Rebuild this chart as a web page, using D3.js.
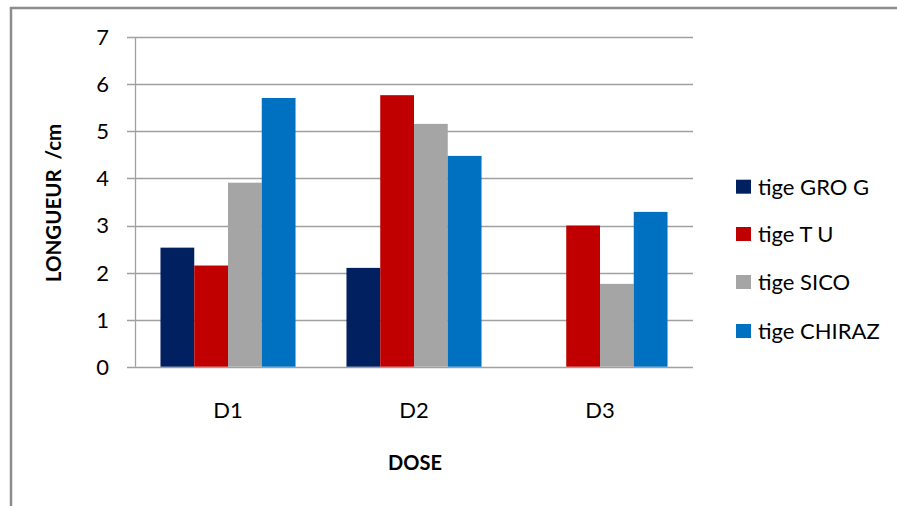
<!DOCTYPE html>
<html>
<head>
<meta charset="utf-8">
<script src="https://cdn.jsdelivr.net/npm/d3@7"></script>
<style>
  html, body { margin: 0; padding: 0; background: #fff; }
  svg { display: block; font-family: Lato, "Open Sans", "DejaVu Sans", sans-serif; }
</style>
</head>
<body>
<svg id="chart" width="897" height="506"></svg>
<script>
// Stem length per dose, one array per variety
const doses = ["D1", "D2", "D3"];
const seriesNames = ["tige GRO G", "tige T U", "tige SICO", "tige CHIRAZ"];
const groG   = [2.53, 2.10, null];
const tigeTU = [2.15, 5.77, 3.00];
const sico   = [3.91, 5.16, 1.76];
const chiraz = [5.71, 4.48, 3.29];
const yTicks = [0, 1, 2, 3, 4, 5, 6, 7];
const colors = ["#002060", "#c00000", "#a5a5a5", "#0070c0"];

const seriesValues = [groG, tigeTU, sico, chiraz];

const svg = d3.select("#chart");

// Frame lines (top and left)
svg.append("line").attr("x1", 10).attr("x2", 897).attr("y1", 8).attr("y2", 8)
  .attr("stroke", "#8c8c8c").attr("stroke-width", 2.5);
svg.append("line").attr("x1", 11).attr("x2", 11).attr("y1", 7).attr("y2", 506)
  .attr("stroke", "#8c8c8c").attr("stroke-width", 2.5);

const plot = { left: 135, right: 693, top: 37.3, bottom: 366.7 };

const y = d3.scaleLinear().domain([0, 7]).range([plot.bottom, plot.top]);
const x0 = d3.scaleBand().domain(doses).range([plot.left, plot.right])
  .paddingInner(0.274).paddingOuter(0.137);
const x1 = d3.scaleBand().domain(seriesNames).range([0, x0.bandwidth()]);

// Horizontal gridlines with small ticks left of the axis
svg.append("g").selectAll("line").data(yTicks).join("line")
  .attr("x1", plot.left - 8).attr("x2", plot.right)
  .attr("y1", d => Math.round(y(d)) + 0.5).attr("y2", d => Math.round(y(d)) + 0.5)
  .attr("stroke", "#a0a0a0").attr("stroke-width", 1.3);

// Y axis line
svg.append("line").attr("x1", plot.left + 0.5).attr("x2", plot.left + 0.5)
  .attr("y1", plot.top).attr("y2", plot.bottom)
  .attr("stroke", "#a0a0a0").attr("stroke-width", 1.3);

// Y tick labels
svg.append("g").selectAll("text").data(yTicks).join("text")
  .attr("x", 109).attr("y", d => y(d))
  .attr("dy", "0.36em").attr("text-anchor", "end")
  .attr("font-size", 22).attr("fill", "#000")
  .text(d => d);

// Bars
const groups = svg.append("g").selectAll("g").data(doses).join("g")
  .attr("transform", d => `translate(${x0(d)},0)`);

groups.selectAll("rect")
  .data((d, i) => seriesNames.map((s, j) => ({ s, j, v: seriesValues[j][i] })).filter(e => e.v != null))
  .join("rect")
  .attr("x", e => x1(e.s))
  .attr("width", x1.bandwidth())
  .attr("y", e => y(e.v))
  .attr("height", e => y(0) - y(e.v))
  .attr("fill", e => colors[e.j]);

// Category labels
svg.append("g").selectAll("text").data(doses).join("text")
  .attr("x", d => x0(d) + x0.bandwidth() / 2).attr("y", 410)
  .attr("dy", "0.36em").attr("text-anchor", "middle")
  .attr("font-size", 22).attr("fill", "#000")
  .text(d => d);

// Axis titles
svg.append("text").attr("x", 415).attr("y", 463).attr("dy", "0.36em")
  .attr("text-anchor", "middle").attr("font-size", 20).attr("font-weight", "bold")
  .text("DOSE");

svg.append("text")
  .attr("transform", "translate(54,203) rotate(-90)")
  .attr("dy", "0.36em").attr("text-anchor", "middle")
  .attr("font-size", 20.5).attr("font-weight", "bold")
  .attr("xml:space", "preserve")
  .style("white-space", "pre")
  .text("LONGUEUR  /cm");

// Legend
const legendY = [186.7, 234, 282, 331];
const legend = svg.append("g").selectAll("g").data(seriesNames).join("g")
  .attr("transform", (d, i) => `translate(736,${legendY[i]})`);
legend.append("rect").attr("x", 0).attr("y", -7).attr("width", 15).attr("height", 14)
  .attr("fill", (d, i) => colors[i]);
legend.append("text").attr("x", 22).attr("y", 0).attr("dy", "0.36em")
  .attr("font-size", 22).attr("fill", "#000")
  .text(d => d);
</script>
</body>
</html>
